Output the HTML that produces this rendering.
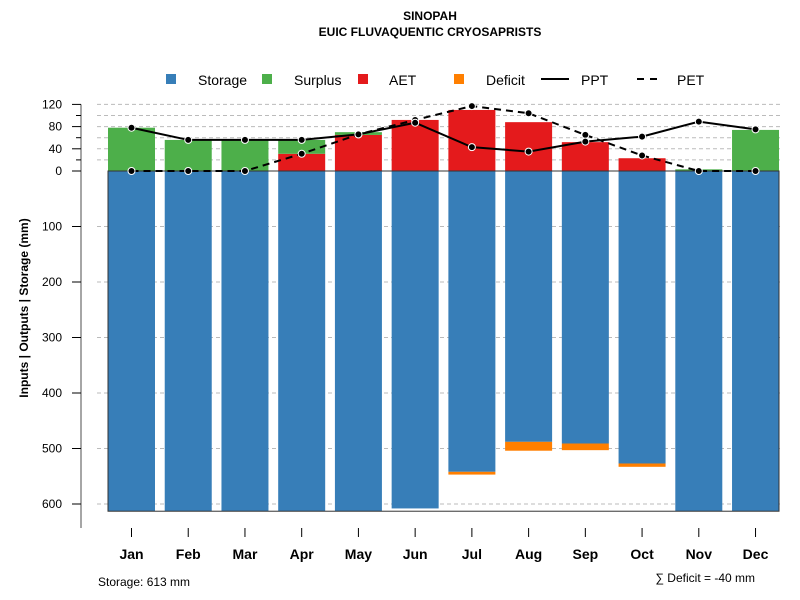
<!DOCTYPE html>
<html><head><meta charset="utf-8"><style>
body{margin:0;background:#fff;}
svg{display:block;font-family:"Liberation Sans",Arial,sans-serif;}
</style></head><body>
<svg id="chart" width="800" height="600">
<text x="430" y="20" text-anchor="middle" font-size="12" font-weight="bold">SINOPAH</text>
<text x="430" y="36" text-anchor="middle" font-size="12" font-weight="bold">EUIC FLUVAQUENTIC CRYOSAPRISTS</text>
<g id="legend" font-size="14">
<g><rect x="166" y="74" width="10" height="10" fill="#377EB8"/><text x="198" y="85">Storage</text></g>
<g><rect x="262" y="74" width="10" height="10" fill="#4DAF4A"/><text x="294" y="85">Surplus</text></g>
<g><rect x="358" y="74" width="10" height="10" fill="#E41A1C"/><text x="389" y="85">AET</text></g>
<g><rect x="454" y="74" width="10" height="10" fill="#FF7F00"/><text x="486" y="85">Deficit</text></g>
<g><line x1="541" y1="79" x2="569" y2="79" stroke="#000" stroke-width="2"/><text x="581" y="85">PPT</text></g>
<g><line x1="637" y1="79" x2="661" y2="79" stroke="#000" stroke-width="2" stroke-dasharray="7,6"/><text x="677" y="85">PET</text></g>
</g>
<text transform="translate(28,308) rotate(-90)" text-anchor="middle" font-size="12" font-weight="bold">Inputs | Outputs | Storage    (mm)</text>
<text x="98" y="586" font-size="12">Storage: 613 mm</text>
<text x="755" y="582" text-anchor="end" font-size="12">∑ Deficit = -40 mm</text>
<g id="grid"></g><g id="bars"></g><g id="lines"></g><g id="axes"></g>
</svg>
<script>
const months=["Jan","Feb","Mar","Apr","May","Jun","Jul","Aug","Sep","Oct","Nov","Dec"];
const storage=[613,613,613,613,613,608,542,488,491,527,613,613];
const deficit=[0,0,0,0,0,0,5,16,12,6,0,0];
const aet=[0,0,0,31,65,92,110,88,52,23,0,0];
const surplus=[78,56,56,25,5,0,0,0,0,0,3,74];
const ppt=[78,56,56,56,66,87,43,35,53,62,89,75];
const pet=[0,0,0,31,66,92,117,104,65,28,0,0];
const topTicks=[0,20,40,60,80,100,120];
const topLabels=[0,40,80,120];
const bottomTicks=[100,200,300,400,500,600];
const NS="http://www.w3.org/2000/svg";
const y0=171,k=0.555;
function yUp(v){return y0-v*k;}
function yDown(v){return y0+v*k;}
function xc(i){return 131.5+i*56.73;}
const bw=47;
function mk(tag,attrs,parent){const e=document.createElementNS(NS,tag);for(const a in attrs)e.setAttribute(a,attrs[a]);document.getElementById(parent).appendChild(e);return e;}
topTicks.forEach(v=>{if(v===0)return;const l=mk('line',{x1:97,x2:783,y1:yUp(v),y2:yUp(v),stroke:'#bbb','stroke-dasharray':'4,3'},'grid');

});
bottomTicks.forEach(v=>{const l=mk('line',{x1:97,x2:783,y1:yDown(v),y2:yDown(v),stroke:'#bbb','stroke-dasharray':'4,3'},'grid');

});
months.forEach((m,i)=>{
 const x=xc(i)-bw/2;
 let r=mk('rect',{x:x,y:y0,width:bw,height:storage[i]*k,fill:'#377EB8'},'bars');
 
 
 if(deficit[i]>0){r=mk('rect',{x:x,y:yDown(storage[i]),width:bw,height:deficit[i]*k,fill:'#FF7F00'},'bars');
 
 }
 if(aet[i]>0){r=mk('rect',{x:x,y:yUp(aet[i]),width:bw,height:aet[i]*k,fill:'#E41A1C'},'bars');
 
 }
 if(surplus[i]>0){r=mk('rect',{x:x,y:yUp(aet[i]+surplus[i]),width:bw,height:surplus[i]*k,fill:'#4DAF4A'},'bars');
 
 }
});
let box=mk('rect',{x:108,y:y0,width:671,height:613*k,fill:'none',stroke:'#333','stroke-width':1},'bars');


function series(vals,dash,name){
 const p=mk('polyline',{points:vals.map((v,i)=>xc(i)+','+yUp(v)).join(' '),fill:'none',stroke:'#000','stroke-width':2,'stroke-dasharray':dash},'lines');
 
 
 vals.forEach((v,i)=>{const c=mk('circle',{cx:xc(i),cy:yUp(v),r:3.5,fill:'#000',stroke:'#fff','stroke-width':1},'lines');
 
 });
}
series(pet,'7,5','pet');
series(ppt,'none','ppt');
let ax=mk('line',{x1:81,x2:81,y1:yUp(120),y2:528,stroke:'#888','stroke-width':1.5},'axes');


topLabels.forEach(v=>{const y=yUp(v);mk('line',{x1:72,x2:81,y1:y,y2:y,stroke:'#000'},'axes');
 const t=mk('text',{x:62,y:y+4,'text-anchor':'end','font-size':12},'axes');t.textContent=v;
 
 });
[20,60,100].forEach(v=>{mk('line',{x1:76,x2:81,y1:yUp(v),y2:yUp(v),stroke:'#000'},'axes');});
bottomTicks.forEach(v=>{const y=yDown(v);mk('line',{x1:72,x2:81,y1:y,y2:y,stroke:'#000'},'axes');
 const t=mk('text',{x:62,y:y+4,'text-anchor':'end','font-size':12},'axes');t.textContent=v;
 
 });
months.forEach((m,i)=>{mk('line',{x1:xc(i),x2:xc(i),y1:528,y2:537,stroke:'#000'},'axes');
 const t=mk('text',{x:xc(i),y:559,'text-anchor':'middle','font-size':14,'font-weight':'bold'},'axes');t.textContent=m;
 
 });
</script>
</body></html>
